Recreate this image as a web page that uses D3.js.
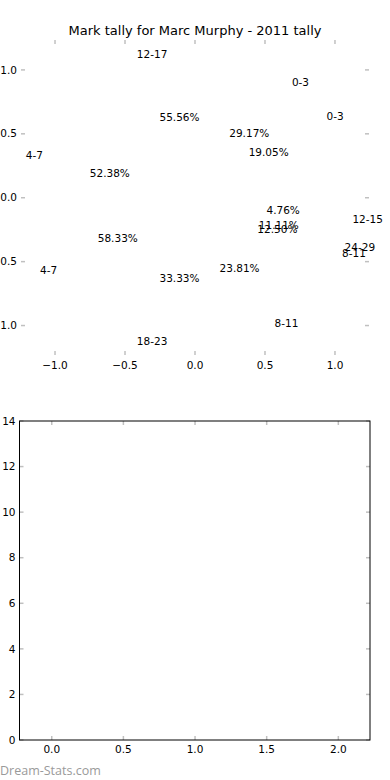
<!DOCTYPE html>
<html>
<head>
<meta charset="utf-8">
<script src="https://cdn.jsdelivr.net/npm/d3@7"></script>
<style>
  html, body { margin: 0; padding: 0; background: #fff; }
  svg { display: block; }
  text { font-family: "DejaVu Sans", sans-serif; fill: #000; }
</style>
</head>
<body>
<svg id="chart" width="390" height="780"></svg>
<script>
// ---- data ----
const title = "Mark tally for Marc Murphy - 2011 tally";
// three overlaid pies (counts per mark-range bucket)
const pieALabels = ["12-17", "18-23", "24-29"];
const pieAValues = [5, 3, 1];
const pieBLabels = ["0-3", "4-7", "8-11"];
const pieBValues = [7, 14, 3];
const pieCLabels = ["0-3", "4-7", "8-11", "12-15"];
const pieCValues = [4, 11, 5, 1];
const topTicks = [-1.0, -0.5, 0.0, 0.5, 1.0];
const bottomXTicks = [0.0, 0.5, 1.0, 1.5, 2.0];
const bottomYTicks = [0, 2, 4, 6, 8, 10, 12, 14];
const watermark = "Dream-Stats.com";

(function () {
const svg = d3.select("#chart");
const tickColor = "#c0c0c0";

// ---- top panel (pie label layout, wedges invisible) ----
const P1 = { left: 21, right: 369, top: 40, bottom: 355 };
const x1 = d3.scaleLinear().domain([-1.243, 1.243]).range([P1.left, P1.right]);
const y1 = d3.scaleLinear().domain([-1.2305, 1.234]).range([P1.bottom, P1.top]);
const fmt1 = t => d3.format(".1f")(t).replace("-", "\u2212");

svg.append("text")
  .attr("x", 195).attr("y", 35)
  .attr("text-anchor", "middle")
  .style("font-size", "13px")
  .text(title);

const g1 = svg.append("g");
topTicks.forEach(t => {
  g1.append("line").attr("x1", x1(t)).attr("x2", x1(t)).attr("y1", P1.top).attr("y2", P1.top + 4)
    .attr("stroke", tickColor).attr("stroke-width", 1.5);
  g1.append("line").attr("x1", x1(t)).attr("x2", x1(t)).attr("y1", P1.bottom).attr("y2", P1.bottom - 4)
    .attr("stroke", tickColor).attr("stroke-width", 1.5);
  g1.append("text").attr("x", x1(t)).attr("y", P1.bottom + 14)
    .attr("text-anchor", "middle").style("font-size", "10.5px").text(fmt1(t));
  g1.append("line").attr("y1", y1(t)).attr("y2", y1(t)).attr("x1", P1.left).attr("x2", P1.left + 4)
    .attr("stroke", tickColor).attr("stroke-width", 1.5);
  g1.append("line").attr("y1", y1(t)).attr("y2", y1(t)).attr("x1", P1.right).attr("x2", P1.right - 4)
    .attr("stroke", tickColor).attr("stroke-width", 1.5);
  g1.append("text").attr("x", P1.left - 4).attr("y", y1(t)).attr("dy", "0.35em")
    .attr("text-anchor", "end").style("font-size", "10.5px").text(fmt1(t));
});

const pctDist = 0.637, labelDist = 1.137;
const pieGen = d3.pie().sort(null).value(d => d.v).startAngle(0).endAngle(2 * Math.PI);
function drawPie(labels, values) {
  const total = d3.sum(values);
  const arcs = pieGen(labels.map((l, i) => ({ l, v: values[i] })));
  arcs.forEach(a => {
    const th = (a.startAngle + a.endAngle) / 2; // counter-clockwise from +x
    const lx = labelDist * Math.cos(th), ly = labelDist * Math.sin(th);
    g1.append("text").attr("x", x1(lx)).attr("y", y1(ly)).attr("dy", "0.35em")
      .attr("text-anchor", lx > 0 ? "start" : "end").style("font-size", "10.5px")
      .text(a.data.l);
    const px = pctDist * Math.cos(th), py = pctDist * Math.sin(th);
    g1.append("text").attr("x", x1(px)).attr("y", y1(py)).attr("dy", "0.35em")
      .attr("text-anchor", "middle").style("font-size", "10.5px")
      .text(d3.format(".2f")(100 * a.data.v / total) + "%");
  });
}
drawPie(pieALabels, pieAValues);
drawPie(pieBLabels, pieBValues);
drawPie(pieCLabels, pieCValues);

// ---- bottom panel (empty axes) ----
const P2 = { left: 19.5, right: 370, top: 421, bottom: 740 };
const x2 = d3.scaleLinear().domain([-0.225, 2.221]).range([P2.left, P2.right]);
const y2 = d3.scaleLinear().domain([0, 14]).range([P2.bottom, P2.top]);
const g2 = svg.append("g");
bottomXTicks.forEach(t => {
  g2.append("line").attr("x1", x2(t)).attr("x2", x2(t)).attr("y1", P2.bottom).attr("y2", P2.bottom - 4)
    .attr("stroke", tickColor).attr("stroke-width", 1.5);
  g2.append("line").attr("x1", x2(t)).attr("x2", x2(t)).attr("y1", P2.top).attr("y2", P2.top + 4)
    .attr("stroke", tickColor).attr("stroke-width", 1.5);
  g2.append("text").attr("x", x2(t)).attr("y", P2.bottom + 13)
    .attr("text-anchor", "middle").style("font-size", "10.5px").text(d3.format(".1f")(t));
});
bottomYTicks.forEach(t => {
  g2.append("line").attr("y1", y2(t)).attr("y2", y2(t)).attr("x1", P2.left).attr("x2", P2.left + 4)
    .attr("stroke", tickColor).attr("stroke-width", 1.5);
  g2.append("line").attr("y1", y2(t)).attr("y2", y2(t)).attr("x1", P2.right).attr("x2", P2.right - 4)
    .attr("stroke", tickColor).attr("stroke-width", 1.5);
  g2.append("text").attr("x", P2.left - 4).attr("y", y2(t)).attr("dy", "0.35em")
    .attr("text-anchor", "end").style("font-size", "10.5px").text(t);
});
g2.append("rect").attr("x", P2.left).attr("y", P2.top)
  .attr("width", P2.right - P2.left).attr("height", P2.bottom - P2.top)
  .attr("fill", "none").attr("stroke", "#000").attr("stroke-width", 1);

svg.append("text").attr("x", 0).attr("y", 775)
  .style("font-family", "'Open Sans', sans-serif").style("font-size", "12.5px")
  .style("fill", "#9a9a9a").text(watermark);
})();
</script>
</body>
</html>
